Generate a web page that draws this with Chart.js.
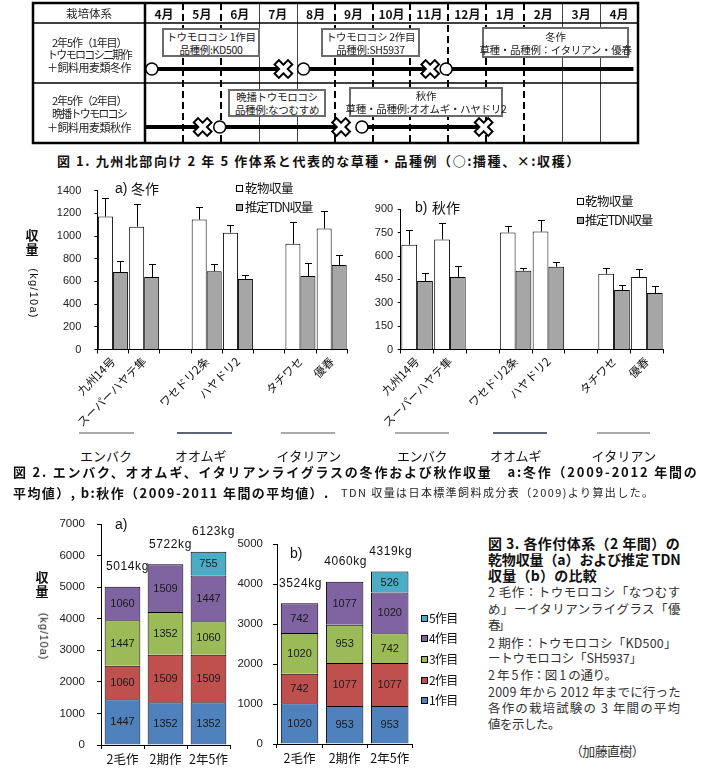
<!DOCTYPE html>
<html><head><meta charset="utf-8">
<script src="https://cdn.jsdelivr.net/npm/chart.js@4.4.0/dist/chart.umd.min.js"></script>
<style>
body{margin:0;width:705px;height:773px;position:relative;background:#fff;overflow:hidden;font-family:"Noto Sans CJK JP",sans-serif;color:#111}
canvas{position:absolute}
.t{position:absolute;white-space:nowrap;line-height:1}
.box{position:absolute;border:2px solid #6b6b6b;background:#fff;box-sizing:border-box;display:flex;flex-direction:column;justify-content:center;align-items:center;font-size:10.5px;line-height:13px;color:#222;letter-spacing:-0.3px;white-space:nowrap;overflow:visible}
.sq{position:absolute;width:7px;height:7px;border:1px solid #000;box-sizing:border-box}
.gl{position:absolute;height:2px}
</style></head><body>
<canvas id="c1" width="615" height="148" style="left:28px;top:0px"></canvas>
<canvas id="c2a" width="360" height="255" style="left:0px;top:180px"></canvas>
<canvas id="c2b" width="345" height="255" style="left:360px;top:180px"></canvas>
<canvas id="c3a" width="240" height="258" style="left:0px;top:515px"></canvas>
<canvas id="c3b" width="215" height="258" style="left:225px;top:515px"></canvas>
<script>
// ---------- Fig.1 schedule data (month units from start of April) ----------
const months = ['4月','5月','6月','7月','8月','9月','10月','11月','12月','1月','2月','3月','4月'];
const rowY = [3.3, 6.2];
const row1Segments = [[0.18,3.65],[4.18,7.52],[7.94,12.88]];
const row2Segments = [[0,1.52],[1.97,5.17],[5.72,8.93]];
const row1Sow = [0.18,4.18,7.94];
const row1Harvest = [3.65,7.52];
const row2Sow = [1.97,5.72];
const row2Harvest = [1.52,5.17,8.93];

// ---------- Fig.2 data ----------
const cultivars = ['九州14号','スーパーハヤテ隼','','ワセドリ2条','ハヤドリ2','','タチワセ','優春'];
const winterDry    = [1172,1083,null,1146,1030,null,932,1066];
const winterDryErr = [1332,1285,null,1258,1098,null,1125,1217];
const winterTdn    = [684,639,null,690,622,null,648,746];
const winterTdnErr = [778,752,null,752,657,null,761,835];
const autumnDry    = [673,706,null,751,757,null,486,466];
const autumnDryErr = [770,814,null,794,829,null,524,518];
const autumnTdn    = [440,466,null,505,531,null,382,363];
const autumnTdnErr = [490,537,null,524,563,null,414,408];

// ---------- Fig.3 data ----------
const systems = ['2毛作','2期作','2年5作'];
const cropLabels = ['1作目','2作目','3作目','4作目','5作目'];
const dm1 = [1447,1352,1352];
const dm2 = [1060,1509,1509];
const dm3 = [1447,1352,1060];
const dm4 = [1060,1509,1447];
const dm5 = [null,null,755];
const dmTotals = ['5014kg','5722kg','6123kg'];
const tdn1 = [1020,953,953];
const tdn2 = [742,1077,1077];
const tdn3 = [1020,953,742];
const tdn4 = [742,1077,1020];
const tdn5 = [null,null,526];
const tdnTotals = ['3524kg','4060kg','4319kg'];

const cropColors = ['#4F81BD','#C0504D','#9BBB59','#8064A2','#4BACC6'];
const JP = '"Noto Sans CJK JP"';
const LS = '"Liberation Sans"';
const plain = v => String(v);
const noPad = s => { s.paddingTop = 0; s.paddingBottom = 0; s.paddingLeft = 0; s.paddingRight = 0; };

// ---------- Fig.1 ----------
const boldDividers = [1,2,5,6,7,8,9,10];
const tablePlugin = {id:'table', beforeDatasetsDraw(chart){
  const {ctx, chartArea:a, scales:{x,y}} = chart;
  const L = a.left - 112;
  ctx.save();
  for (let k=1;k<months.length;k++){
    const bold = boldDividers.includes(k);
    const px = Math.round(x.getPixelForValue(k)) + (bold?0:0.5);
    ctx.lineWidth = bold?2:1; ctx.setLineDash(bold?[7,4]:[]);
    ctx.strokeStyle = bold?'#000':'#444';
    ctx.beginPath(); ctx.moveTo(px,a.top); ctx.lineTo(px,a.bottom); ctx.stroke();
  }
  ctx.setLineDash([]);
  ctx.strokeStyle='#000'; ctx.lineWidth=1.5;
  [1,4].forEach(v=>{const py=y.getPixelForValue(v); ctx.beginPath(); ctx.moveTo(L,py); ctx.lineTo(a.right,py); ctx.stroke();});
  ctx.lineWidth=2.5;
  ctx.beginPath(); ctx.moveTo(a.left,a.top); ctx.lineTo(a.left,a.bottom); ctx.stroke();
  ctx.strokeRect(L,a.top,a.right-L,a.bottom-a.top);
  ctx.fillStyle='#111'; ctx.font='bold 12px '+JP; ctx.textAlign='center'; ctx.textBaseline='middle';
  months.forEach((m,i)=>ctx.fillText(m, x.getPixelForValue(i+0.5), y.getPixelForValue(0.5)+1));
  ctx.restore();
}};
const sowPts = row1Sow.map(v=>({x:v,y:rowY[0]})).concat(row2Sow.map(v=>({x:v,y:rowY[1]})));
const harvPts = row1Harvest.map(v=>({x:v,y:rowY[0]})).concat(row2Harvest.map(v=>({x:v,y:rowY[1]})));
const segs = row1Segments.map(s=>s.map(v=>({x:v,y:rowY[0]}))).concat(row2Segments.map(s=>s.map(v=>({x:v,y:rowY[1]}))));
new Chart(document.getElementById('c1'), {
  type:'scatter',
  data:{datasets:[
    {data:sowPts, pointStyle:'circle', pointRadius:6, pointBackgroundColor:'#fff', pointBorderColor:'#000', pointBorderWidth:1.5, order:0, clip:false},
    {data:harvPts, pointStyle:'crossRot', pointRadius:8.5, pointBorderColor:'#fff', pointBorderWidth:4, order:1, clip:false},
    {data:harvPts, pointStyle:'crossRot', pointRadius:10.5, pointBorderColor:'#000', pointBorderWidth:8, order:2, clip:false},
    ...segs.map(s=>({type:'line', data:s, showLine:true, borderColor:'#000', borderWidth:4, pointRadius:0, order:3, clip:false}))
  ]},
  options:{responsive:false, animation:false, devicePixelRatio:1,
    layout:{autoPadding:false, padding:{left:117,top:3,right:5,bottom:5}},
    plugins:{legend:{display:false}, tooltip:{enabled:false}},
    scales:{x:{type:'linear',min:0,max:13,display:false}, y:{type:'linear',min:0,max:7,reverse:true,display:false}}},
  plugins:[tablePlugin]
});

// ---------- Fig.2 ----------
const errPlugin = {id:'err', afterDatasetsDraw(chart){
  const {ctx} = chart; const ys = chart.scales.y;
  ctx.save(); ctx.strokeStyle='#000'; ctx.lineWidth=1;
  chart.data.datasets.forEach((ds,di)=>{
    chart.getDatasetMeta(di).data.forEach((el,i)=>{
      const e = ds.errHi ? ds.errHi[i] : null;
      if (e==null || ds.data[i]==null) return;
      const x = Math.round(el.x)+0.5, py = Math.round(ys.getPixelForValue(e))+0.5;
      ctx.beginPath(); ctx.moveTo(x, el.y); ctx.lineTo(x, py);
      ctx.moveTo(x-3.5, py); ctx.lineTo(x+3.5, py); ctx.stroke();
    });
  });
  ctx.restore();
}};
function yieldChart(id, dry, dryErr, tdn, tdnErr, ymax, ystep, yWidth, yPad, pad){
  return new Chart(document.getElementById(id), {
    type:'bar',
    data:{labels:cultivars, datasets:[
      {label:'乾物収量', data:dry, errHi:dryErr, backgroundColor:'#fff', borderColor:'#000', borderWidth:1},
      {label:'推定TDN収量', data:tdn, errHi:tdnErr, backgroundColor:'#a6a6a6', borderColor:'#000', borderWidth:1}
    ]},
    options:{responsive:false, animation:false, devicePixelRatio:1,
      datasets:{bar:{categoryPercentage:0.96, barPercentage:1}},
      layout:{autoPadding:false, padding:pad},
      plugins:{legend:{display:false}, tooltip:{enabled:false}},
      scales:{
        x:{grid:{offset:true, drawOnChartArea:false, tickLength:4, color:'#000'}, border:{color:'#000'},
           ticks:{autoSkip:false, minRotation:45, maxRotation:45, padding:1, color:'#111', font:{family:JP, size:11.5}},
           afterFit(s){s.height=85.5; noPad(s);}},
        y:{min:0, max:ymax, grid:{drawOnChartArea:false, tickLength:3, color:'#000'}, border:{color:'#000'},
           ticks:{stepSize:ystep, padding:yPad, color:'#222', font:{family:LS, size:11}, callback:plain},
           afterFit(s){s.width=yWidth; noPad(s);}}
      }},
    plugins:[errPlugin]});
}
yieldChart('c2a', winterDry, winterDryErr, winterTdn, winterTdnErr, 1400, 200, 97.3, 13, {left:0,top:10.7,right:12.7,bottom:0});
yieldChart('c2b', autumnDry, autumnDryErr, autumnTdn, autumnTdnErr, 900, 150, 40.7, 4.5, {left:0,top:29.3,right:41.7,bottom:0});

// ---------- Fig.3 ----------
const stackLabels = {id:'stackLabels', afterDatasetsDraw(chart, args, opts){
  const {ctx} = chart;
  ctx.save(); ctx.fillStyle='#1a1a1a'; ctx.textAlign='center'; ctx.textBaseline='middle';
  ctx.font='11px '+LS;
  chart.data.datasets.forEach((ds,di)=>{
    chart.getDatasetMeta(di).data.forEach((el,i)=>{
      if (ds.data[i]==null) return;
      ctx.fillText(String(ds.data[i]), el.x, (el.y+el.base)/2+0.5);
    });
  });
  ctx.font='12px '+LS; ctx.fillStyle='#111';
  try{ctx.letterSpacing='0.6px';}catch(e){}
  opts.totals.forEach((t,i)=>{
    let top=Infinity, xx=0;
    chart.data.datasets.forEach((ds,di)=>{const el=chart.getDatasetMeta(di).data[i]; if(ds.data[i]!=null){top=Math.min(top,el.y); xx=el.x;}});
    ctx.fillText(t, xx+opts.dx, top-20);
  });
  ctx.restore();
}};
function stackChart(id, series, totals, ymax, yWidth, yPad, pad, xH, dx){
  return new Chart(document.getElementById(id), {
    type:'bar',
    data:{labels:systems, datasets:series.map((d,i)=>({label:cropLabels[i], data:d, backgroundColor:cropColors[i], borderColor:'#000', borderWidth:1}))},
    options:{responsive:false, animation:false, devicePixelRatio:1,
      datasets:{bar:{categoryPercentage:0.83, barPercentage:1}},
      layout:{autoPadding:false, padding:pad},
      plugins:{legend:{display:false}, tooltip:{enabled:false}, stackLabels:{totals, dx}},
      scales:{
        x:{stacked:true, grid:{offset:true, drawOnChartArea:false, tickLength:4, color:'#000'}, border:{color:'#000'},
           ticks:{padding:3, minRotation:0, maxRotation:0, autoSkip:false, color:'#111', font:{family:JP, size:12.5}}, afterFit(s){s.height=xH; noPad(s);}},
        y:{stacked:true, min:0, max:ymax, grid:{drawOnChartArea:false, tickLength:4, color:'#000'}, border:{color:'#000'},
           ticks:{stepSize:1000, padding:yPad, color:'#222', font:{family:LS, size:11.5}, callback:plain}, afterFit(s){s.width=yWidth; noPad(s);}}
      }},
    plugins:[stackLabels]});
}
stackChart('c3a', [dm1,dm2,dm3,dm4,dm5], dmTotals, 7000, 101, 12, {left:0,top:9,right:10,bottom:0}, 28, 5);
stackChart('c3b', [tdn1,tdn2,tdn3,tdn4,tdn5], tdnTotals, 5000, 52, 10, {left:0,top:29.3,right:27.7,bottom:0}, 29, 1);

// ---------- HTML text ----------
function txt(s, x, y, o={}){
  const e=document.createElement('div'); e.className='t'; e.textContent=s;
  e.style.fontSize=(o.size||12)+'px'; e.style.fontWeight=o.bold?'bold':'normal';
  e.style.color=o.color||'#111'; e.style.fontFamily=o.font||JP;
  document.body.appendChild(e);
  if (o.w){ const n=[...s].length; const w0=e.offsetWidth; e.style.letterSpacing=((o.w-w0)/n)+'px'; }
  const w=e.offsetWidth, h=e.offsetHeight;
  const left = o.align==='center' ? x-w/2 : o.align==='right' ? x-w : x;
  e.style.left=left+'px'; e.style.top=(y-h/2)+'px';
  if (o.rot){ e.style.transform='rotate('+o.rot+'deg)'; e.style.transformOrigin='50% 50%'; }
  return e;
}
function box(x,y,w,h,lines){
  const b=document.createElement('div'); b.className='box';
  Object.assign(b.style,{left:x+'px',top:y+'px',width:w+'px',height:h+'px'});
  lines.forEach(l=>{const d=document.createElement('div'); d.textContent=l; b.appendChild(d);});
  document.body.appendChild(b);
}
function sq(x,y,color){const d=document.createElement('div'); d.className='sq'; d.style.left=(x-3.5)+'px'; d.style.top=(y-3.5)+'px'; d.style.background=color; document.body.appendChild(d);}
function gline(x1,x2,y,color,h){const d=document.createElement('div'); d.className='gl'; Object.assign(d.style,{left:x1+'px',width:(x2-x1)+'px',top:(y-1)+'px',background:color,height:(h||2)+'px'}); document.body.appendChild(d);}

// Fig1 texts
txt('栽培体系', 89, 14, {size:11.5, align:'center', color:'#222'});
txt('2年5作（1年目）', 89, 42, {size:11, align:'center', w:74, color:'#222'});
txt('トウモロコシ二期作', 89, 54.5, {size:11, align:'center', w:84, color:'#222'});
txt('＋飼料用麦類冬作', 89, 67, {size:11, align:'center', w:84, color:'#222'});
txt('2年5作（2年目）', 89, 100, {size:11, align:'center', w:74, color:'#222'});
txt('晩播トウモロコシ', 89, 113, {size:11, align:'center', w:74, color:'#222'});
txt('＋飼料用麦類秋作', 89, 127, {size:11, align:'center', w:84, color:'#222'});
box(162,28,98,29,['トウモロコシ 1作目','品種例:KD500']);
box(321,28,99,29,['トウモロコシ 2作目','品種例:SH5937']);
box(482,27,147,31,['冬作','草種・品種例：イタリアン・優春']);
box(228,89,98,28,['晩播トウモロコシ','品種例:なつむすめ']);
box(349,87,154,30,['秋作','草種・品種例:オオムギ・ハヤドリ2']);
txt('図 1.  九州北部向け 2 年 5 作体系と代表的な草種・品種例（○:播種、×:収穫）', 57, 160, {size:13, bold:true, w:525});

// Fig2 texts
txt('a)', 115, 188, {size:14, font:LS});
txt('冬作', 131, 188, {size:14});
txt('b)', 415, 207, {size:14, font:LS});
txt('秋作', 432, 207, {size:14});
sq(239.5,188.5,'#fff'); txt('乾物収量', 245, 188, {size:12.5, w:48});
sq(239.5,207.5,'#a6a6a6'); txt('推定TDN収量', 245, 207, {size:12.5, w:67});
sq(580,201.5,'#fff'); txt('乾物収量', 585, 201, {size:12.5, w:48});
sq(580,220.5,'#a6a6a6'); txt('推定TDN収量', 585, 220, {size:12.5, w:67});
txt('収', 32, 234, {size:13, bold:true, align:'center'});
txt('量', 32, 248, {size:13, bold:true, align:'center'});
txt('(kg/10a)', 33, 293, {size:11, align:'center', w:50, font:LS, rot:90});
gline(79,134,433,'#aaa'); gline(177,232,433,'#5f6475',1.5); gline(281,335,433,'#aaa');
gline(395,449,433,'#aaa'); gline(493,547,433,'#5f6475',1.5); gline(597,650,433,'#aaa');
txt('エンバク', 106, 455, {size:13, align:'center', w:52});
txt('オオムギ', 201, 455, {size:13, align:'center', w:52});
txt('イタリアン', 309, 455, {size:13, align:'center', w:65});
txt('エンバク', 422, 455, {size:13, align:'center', w:50});
txt('オオムギ', 516, 455, {size:13, align:'center', w:52});
txt('イタリアン', 624, 455, {size:13, align:'center', w:65});
txt('図 2.  エンバク、オオムギ、イタリアンライグラスの冬作および秋作収量　a:冬作（2009-2012 年間の', 13, 471, {size:13, bold:true, w:687});
txt('平均値）,  b:秋作（2009-2011 年間の平均値）.', 13, 492, {size:13, bold:true, w:318});
txt('TDN 収量は日本標準飼料成分表（2009)より算出した。', 341, 492, {size:11, w:314, color:'#222'});

// Fig3 texts
txt('a)', 115, 524, {size:14, font:LS});
txt('b)', 290, 553, {size:14, font:LS});
txt('収', 42, 576, {size:13, bold:true, align:'center'});
txt('量', 42, 590, {size:13, bold:true, align:'center'});
txt('(kg/10a)', 43, 636, {size:11, align:'center', w:47, font:LS, rot:90});
const legY = [700,680,659,638,618];
cropLabels.forEach((l,i)=>{ sq(424.5, legY[i], cropColors[i]); txt(l, 429, legY[i], {size:12, w:29}); });
txt('図 3.  各作付体系（2 年間）の', 488, 543, {size:14, bold:true, w:193});
txt('乾物収量（a）および推定 TDN', 488, 559, {size:14, bold:true, w:193});
txt('収量（b）の比較', 488, 575, {size:14, bold:true, w:109});
const bodyLines = [
 ['2 毛作：トウモロコシ「なつむす',592,193],
 ['め」ーイタリアンライグラス「優',609,193],
 ['春」',625,20],
 ['2 期作：トウモロコシ「KD500」',643,189],
 ['ートウモロコシ「SH5937」',658,154],
 ['2 年 5 作：図 1 の通り。',675,129],
 ['2009 年から 2012 年までに行った',692,193],
 ['各作の栽培試験の 3 年間の平均',708,193],
 ['値を示した。',724,72]
];
bodyLines.forEach(b=>txt(b[0], 488, b[1], {size:12.5, w:b[2], color:'#333'}));
txt('（加藤直樹）', 570, 750, {size:13, w:74, color:'#333'});
</script>
</body></html>
